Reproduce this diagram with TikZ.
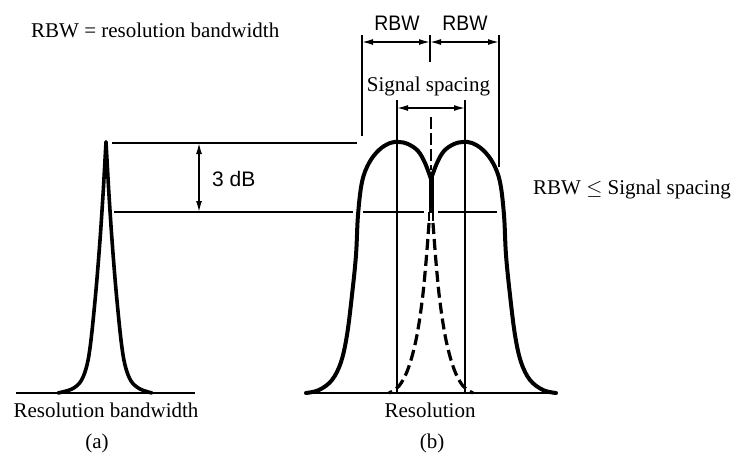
\documentclass[tikz,border=0pt]{standalone}
\usepackage{fontspec}
\setmainfont{Liberation Serif}
\newfontfamily\labelsans{Liberation Sans}
\usetikzlibrary{arrows.meta}
\begin{document}
\begin{tikzpicture}[x=1pt,y=-1pt,
  thinline/.style={line width=1.4pt},
  curve/.style={line width=4pt, line join=round, line cap=round},
  dashcurve/.style={line width=3.2pt, dash pattern=on 11pt off 5pt},
  dim/.style={line width=1.4pt, {Latex[length=11pt,width=6pt]}-{Latex[length=11pt,width=6pt]}},
  seriflbl/.style={font=\fontsize{21}{24}\selectfont, inner sep=0pt},
  sanslbl/.style={font=\labelsans\fontsize{21}{24}\selectfont, inner sep=0pt}]
\useasboundingbox (0,0) rectangle (731,453);

% ---------- texts ----------
\node[seriflbl, anchor=base west] (legend) at (31,37) {RBW = resolution bandwidth};
\node[sanslbl, anchor=base, xscale=0.92] (rbwL) at (397,30) {RBW};
\node[sanslbl, anchor=base, xscale=0.92] (rbwR) at (465,30) {RBW};
\node[seriflbl, anchor=base] (sigsp) at (428.5,91.5) {Signal spacing};
\node[sanslbl, anchor=base west] (db) at (212,186.5) {3 dB};
\node[seriflbl, anchor=base west] (cond) at (533,194) {RBW $\le$ Signal spacing};
\node[seriflbl, anchor=base] (resbw) at (106,417) {Resolution bandwidth};
\node[seriflbl, anchor=base] (res) at (430,417) {Resolution};
\node[seriflbl, anchor=base] (la) at (97,448.5) {(a)};
\node[seriflbl, anchor=base] (lb) at (432,448.5) {(b)};

% ---------- coordinates ----------
\coordinate (topA) at (112,143);   \coordinate (topB) at (357,143);
\coordinate (midA) at (114,212);   \coordinate (midB) at (497,212);
\coordinate (baseA1) at (16,393);  \coordinate (baseA2) at (195,393);
\coordinate (baseB1) at (311,393); \coordinate (baseB2) at (550,393);
\coordinate (dbT) at (199,143);    \coordinate (dbB) at (199,212);
\coordinate (rvL) at (362,35);     \coordinate (rvLb) at (362,136);
\coordinate (rvR) at (499,35);     \coordinate (rvRb) at (499,167);
\coordinate (rvM) at (430,35);     \coordinate (rvMb) at (430,62);
\coordinate (raL) at (362,42);     \coordinate (raM) at (430,42);  \coordinate (raR) at (499,42);
\coordinate (svL) at (397,100);    \coordinate (svLb) at (397,393);
\coordinate (svR) at (465,100);    \coordinate (svRb) at (465,393);
\coordinate (saL) at (397,108);    \coordinate (saR) at (465,108);
\coordinate (cdT) at (431,117);    \coordinate (cdB) at (431,170);

% ---------- thin lines ----------
\draw[thinline] (topA) -- (topB);
\draw[thinline] (midA) -- (353,212);
\draw[thinline] (363,212) -- (424,212);
\draw[thinline] (438,212) -- (midB);
\draw[thinline] (baseA1) -- (baseA2);
\draw[thinline] (baseB1) -- (baseB2);
\draw[thinline] (rvL) -- (rvLb);
\draw[thinline] (rvR) -- (rvRb);
\draw[thinline] (rvM) -- (rvMb);
\draw[thinline] (svL) -- (svLb);
\draw[thinline] (svR) -- (svRb);
\draw[thinline, dash pattern=on 12pt off 4pt] (cdT) -- (cdB);

% ---------- dimension arrows ----------
\draw[dim] (dbT) -- (dbB);
\draw[dim] (raL) -- (raM);
\draw[dim] (raM) -- (raR);
\draw[dim] (saL) -- (saR);

% ---------- curve (a) ----------
\draw[curve, line width=3.6pt] plot[smooth, tension=0.55] coordinates
  {(58,393) (72,389) (81,381) (87,365) (91,340) (96,290) (100,240) (103,195) (105,160) (106,142)};
\draw[curve, line width=3.6pt] plot[smooth, tension=0.55] coordinates
  {(106,142) (107,160) (109,195) (112,240) (116,290) (121,340) (125,365) (131,381) (140,389) (152,393)};

% ---------- curve (b) ----------
\draw[curve] plot[smooth, tension=0.6] coordinates
  {(306,393) (319,390) (332,380) (341,362) (347,335) (352,295) (356,255) (358,215) (362,182) (369,163) (379,150) (390,143) (399,142) (408,144) (418,151) (425,163) (431,179)};
\draw[curve] plot[smooth, tension=0.6] coordinates
  {(431,179) (437,163) (444,151) (454,144) (463,142) (472,143) (483,150) (493,163) (500,182) (504,215) (506,255) (510,295) (515,335) (521,362) (530,380) (543,390) (556,393)};
\draw[line width=5pt] (431,174) -- (431,213);
\draw[line width=1.8pt] (429,212) -- (429,221);
\draw[line width=1.8pt] (433,212) -- (433,221);

% dashed inner flanks
\draw[dashcurve] plot[smooth, tension=0.6] coordinates
  {(429,223) (426,262) (422,302) (416,340) (408,369) (399,386) (389,393)};
\draw[dashcurve] plot[smooth, tension=0.6] coordinates
  {(433,223) (436,262) (440,302) (446,340) (454,369) (463,386) (473,393)};
\end{tikzpicture}
\end{document}
